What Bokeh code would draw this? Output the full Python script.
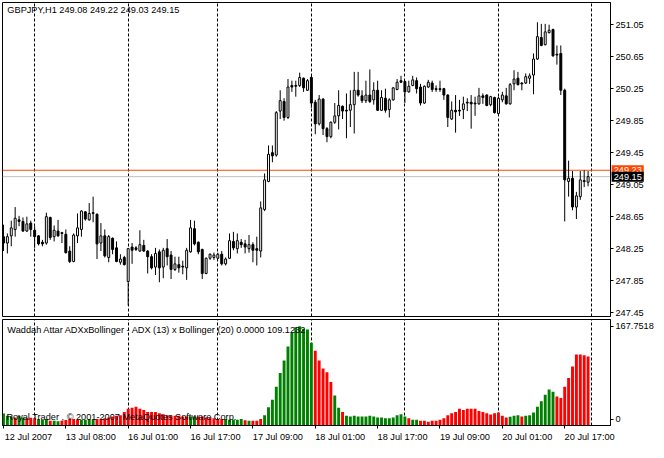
from bokeh.plotting import figure
from bokeh.models import Range1d, FixedTicker, Span, Label, ColumnDataSource, NumeralTickFormatter
from bokeh.layouts import column
from bokeh.embed import file_html
from bokeh.resources import INLINE

FONT = "Liberation Sans"
FS = "9.2px"

# ---------------- data (GBPJPY, H1) ----------------
opens = [248.40, 248.32, 248.41, 248.49, 248.61, 248.59, 248.47, 248.57, 248.48, 248.41,
         248.33, 248.32, 248.64, 248.40, 248.47, 248.45, 248.43, 248.22, 248.09, 248.41,
         248.49, 248.71, 248.61, 248.70, 248.68, 248.32, 248.41, 248.14, 248.38, 248.26,
         248.08, 248.14, 247.84, 248.27, 248.26, 248.22, 248.29, 248.22, 248.15, 248.02,
         248.21, 248.02, 248.25, 248.17, 247.99, 248.05, 248.03, 248.01, 248.21, 248.50,
         248.33, 248.24, 247.94, 248.13, 248.14, 248.13, 248.18, 248.06, 248.13, 248.34,
         248.25, 248.33, 248.31, 248.25, 248.30, 248.25, 248.22, 248.74, 249.09, 249.45,
         249.42, 249.97, 250.09, 249.89, 250.29, 250.29, 250.29, 250.38, 250.23, 250.39,
         250.08, 249.81, 250.12, 249.75, 249.65, 249.83, 249.91, 250.03, 249.98, 249.98,
         250.05, 250.23, 250.16, 250.10, 250.17, 250.11, 250.23, 249.98, 250.13, 249.99,
         250.11, 250.24, 250.35, 250.34, 250.21, 250.29, 250.35, 250.27, 250.07, 250.27,
         250.32, 250.25, 250.25, 250.25, 250.17, 249.87, 249.98, 249.98, 249.99, 250.08,
         250.08, 250.07, 250.06, 250.16, 250.17, 250.05, 250.14, 249.94, 250.11, 250.16,
         250.06, 250.31, 250.38, 250.32, 250.32, 250.38, 250.42, 250.62, 250.89, 250.80,
         250.95, 250.99, 250.68, 250.69, 250.23, 249.09, 249.13, 248.77, 248.90, 249.10,
         249.08]
highs = [248.55, 248.44, 248.60, 248.77, 248.66, 248.64, 248.65, 248.60, 248.53, 248.42,
         248.36, 248.70, 248.65, 248.54, 248.61, 248.46, 248.49, 248.28, 248.44, 248.69,
         248.73, 248.72, 248.82, 248.90, 248.69, 248.57, 248.49, 248.42, 248.39, 248.34,
         248.18, 248.16, 248.26, 248.32, 248.28, 248.48, 248.36, 248.23, 248.18, 248.26,
         248.24, 248.26, 248.37, 248.22, 248.15, 248.15, 248.10, 248.26, 248.61, 248.60,
         248.34, 248.25, 248.14, 248.19, 248.20, 248.20, 248.22, 248.14, 248.44, 248.46,
         248.44, 248.37, 248.36, 248.42, 248.33, 248.40, 248.84, 249.19, 249.54, 249.54,
         249.97, 250.23, 250.13, 250.37, 250.35, 250.35, 250.45, 250.39, 250.37, 250.41,
         250.11, 250.17, 250.13, 249.77, 249.84, 250.07, 250.23, 250.04, 250.19, 250.23,
         250.46, 250.46, 250.23, 250.35, 250.49, 250.33, 250.35, 250.23, 250.25, 250.13,
         250.27, 250.37, 250.41, 250.35, 250.35, 250.41, 250.39, 250.31, 250.29, 250.36,
         250.35, 250.29, 250.35, 250.26, 250.18, 250.09, 250.17, 250.11, 250.15, 250.13,
         250.17, 250.15, 250.26, 250.19, 250.18, 250.16, 250.15, 250.15, 250.21, 250.26,
         250.32, 250.48, 250.46, 250.33, 250.44, 250.44, 250.69, 251.08, 251.06, 251.06,
         251.05, 251.00, 250.79, 250.79, 250.25, 249.35, 249.22, 248.96, 249.22, 249.23,
         249.22]
lows = [248.22, 248.19, 248.28, 248.40, 248.53, 248.46, 248.46, 248.40, 248.26, 248.29,
        248.28, 248.30, 248.36, 248.34, 248.40, 248.32, 248.19, 248.07, 248.08, 248.32,
        248.40, 248.60, 248.60, 248.58, 248.12, 248.22, 248.14, 248.08, 248.18, 248.08,
        248.05, 248.04, 247.54, 248.06, 248.22, 248.21, 248.21, 247.94, 247.99, 247.92,
        247.83, 247.88, 248.04, 247.87, 247.97, 247.95, 247.93, 247.86, 248.20, 248.29,
        248.18, 247.87, 247.93, 248.11, 248.11, 248.12, 248.04, 248.04, 248.12, 248.23,
        248.19, 248.26, 248.19, 248.20, 248.08, 248.04, 248.14, 248.72, 249.08, 249.33,
        249.40, 249.87, 249.85, 249.87, 250.21, 250.15, 250.27, 250.21, 250.22, 250.01,
        249.68, 249.79, 249.67, 249.58, 249.63, 249.81, 249.74, 249.87, 249.63, 249.77,
        249.69, 250.15, 250.07, 250.07, 250.07, 250.05, 249.97, 249.97, 249.95, 249.89,
        250.10, 250.23, 250.32, 250.07, 250.20, 250.28, 250.19, 250.04, 250.06, 250.26,
        250.21, 250.21, 250.21, 250.11, 249.77, 249.86, 249.70, 249.91, 249.87, 249.97,
        249.75, 249.91, 250.05, 250.06, 250.03, 250.03, 249.94, 249.91, 250.08, 250.05,
        250.05, 250.23, 250.29, 250.23, 250.31, 250.31, 250.18, 250.61, 250.78, 250.79,
        250.94, 250.65, 250.55, 250.17, 248.59, 248.90, 248.73, 248.62, 248.86, 249.02,
        249.03]
closes = [248.32, 248.40, 248.51, 248.63, 248.59, 248.47, 248.56, 248.49, 248.40, 248.31,
          248.31, 248.65, 248.39, 248.48, 248.41, 248.44, 248.20, 248.09, 248.42, 248.51,
          248.72, 248.62, 248.69, 248.69, 248.31, 248.41, 248.16, 248.40, 248.24, 248.09,
          248.12, 248.05, 248.25, 248.23, 248.24, 248.30, 248.22, 248.15, 248.01, 248.19,
          248.01, 248.23, 248.15, 247.99, 248.06, 248.01, 248.02, 248.23, 248.51, 248.31,
          248.21, 247.94, 248.13, 248.18, 248.17, 248.18, 248.06, 248.12, 248.35, 248.26,
          248.35, 248.30, 248.27, 248.30, 248.23, 248.23, 248.76, 249.11, 249.43, 249.41,
          249.95, 250.10, 249.89, 250.27, 250.27, 250.28, 250.39, 250.26, 250.35, 250.07,
          249.81, 250.12, 249.75, 249.65, 249.83, 249.91, 250.04, 249.97, 249.97, 250.05,
          250.23, 250.17, 250.10, 250.17, 250.09, 250.23, 249.98, 250.14, 249.98, 250.11,
          250.26, 250.33, 250.33, 250.21, 250.28, 250.36, 250.25, 250.07, 250.28, 250.33,
          250.24, 250.24, 250.24, 250.17, 249.89, 249.98, 249.96, 249.97, 250.06, 250.07,
          250.06, 250.06, 250.16, 250.14, 250.04, 250.15, 249.95, 250.13, 250.17, 250.06,
          250.30, 250.37, 250.30, 250.31, 250.40, 250.41, 250.62, 250.90, 250.79, 250.96,
          250.98, 250.66, 250.67, 250.23, 249.11, 249.13, 248.77, 248.91, 249.11, 249.09,
          249.15]

# Waddah Attar ADX x Bollinger histogram (value, colour G = up / R = down)
hist_values = [18.9, 15.3, 14.2, 12.7, 15.3, 12.7, 11.3, 12.3, 11.3, 10.2,
               8.7, 10.2, 7.6, 7.6, 6.6, 7.6, 8.7, 10.2, 10.2, 9.2,
               9.2, 9.2, 10.2, 9.2, 10.2, 10.2, 11.3, 12.7, 14.2, 15.3,
               16.3, 21.4, 26.5, 28.0, 29.6, 26.5, 24.5, 21.4, 21.4, 21.4,
               19.4, 17.9, 16.3, 15.3, 15.3, 15.3, 14.2, 14.2, 14.2, 14.2,
               14.2, 14.2, 12.7, 12.7, 11.3, 10.2, 10.2, 10.2, 9.2, 9.2,
               9.2, 10.2, 8.2, 7.6, 7.6, 7.6, 10.2, 16.3, 29.0, 40.8,
               61.2, 83.1, 103.0, 125.0, 146.9, 155.5, 157.1, 153.0, 152.0, 131.0,
               118.3, 103.0, 90.3, 84.1, 68.9, 47.5, 28.0, 21.4, 15.3, 14.2,
               15.3, 14.2, 14.2, 14.2, 15.3, 14.2, 12.7, 12.7, 11.3, 11.3,
               12.7, 16.3, 17.9, 14.2, 11.3, 9.2, 9.2, 7.6, 7.6, 6.1,
               7.6, 7.6, 9.2, 11.3, 16.3, 19.4, 21.4, 26.5, 24.5, 26.5,
               26.5, 26.5, 23.0, 21.4, 19.4, 17.3, 19.4, 20.4, 15.3, 12.7,
               13.8, 15.3, 16.3, 14.2, 15.3, 16.3, 20.4, 29.6, 38.2, 48.5,
               57.1, 53.5, 45.9, 43.4, 61.2, 75.0, 93.3, 112.2, 112.2, 111.2,
               109.1232]
hist_dir = list("GGGRGGRRRG" "GGRGGRRRRR" "GGGGRRRRRR" "RRRRRRRRRR" "RRRRRRRRGG"
                "RRRRRRRGGG" "GGRGRRRGGG" "GGGGGGGGGG" "RRRRRGGRGG" "GGGGGGGGGG"
                "GGGGRGGRRR" "RRRRRRRRRR" "RRRRRRRRRR" "GGGRGGGGGG" "GGRRRRRRRR" "R")

price_ticks = [247.45, 247.85, 248.25, 248.65, 249.05, 249.45, 249.85, 250.25, 250.65, 251.05]
date_idx = [0, 16, 32, 48, 64, 80, 96, 112, 128, 144]
date_labels = ["12 Jul 2007", "13 Jul 08:00", "16 Jul 01:00", "16 Jul 17:00", "17 Jul 09:00",
               "18 Jul 01:00", "18 Jul 17:00", "19 Jul 09:00", "20 Jul 01:00", "20 Jul 17:00"]
day_starts = [8, 32, 55, 79, 103, 127, 151]
ask_price = 249.23
bid_price = 249.15
header = "GBPJPY,H1  249.08 249.22 249.03 249.15"
ind_title = "Waddah Attar ADXxBollinger - ADX (13) x Bollinger (20) 0.0000 109.1232"
ind_max = 167.7518

# ---------------- figures ----------------
n = len(opens)
idx = list(range(n))
xr = Range1d(-0.25, 155.75)

p1 = figure(frame_width=608, frame_height=314, x_range=xr, y_range=Range1d(247.402, 251.327),
            x_axis_location=None, y_axis_location="right", output_backend="svg",
            toolbar_location=None, min_border_left=2, min_border_right=38,
            min_border_top=2, min_border_bottom=3)
p2 = figure(frame_width=608, frame_height=106, x_range=xr, y_range=Range1d(0, ind_max),
            y_axis_location="right", output_backend="svg", toolbar_location=None,
            min_border_left=2, min_border_right=38, min_border_top=0, min_border_bottom=17)

for p in (p1, p2):
    p.background_fill_color = "white"
    p.border_fill_color = "white"
    p.outline_line_color = "black"
    p.outline_line_width = 1
    p.outline_line_alpha = 1
    p.ygrid.visible = False
    p.xgrid.ticker = FixedTicker(ticks=day_starts)
    p.xgrid.grid_line_color = "black"
    p.xgrid.grid_line_dash = "3 2"
    p.xgrid.grid_line_width = 1
    for ax in p.yaxis:
        ax.axis_line_color = "black"
        ax.major_tick_line_color = "black"
        ax.major_tick_out = 3
        ax.major_tick_in = 0
        ax.minor_tick_line_color = None
        ax.major_label_standoff = 2
        ax.major_label_text_font = FONT
        ax.major_label_text_font_size = FS
        ax.major_label_text_color = "black"

p1.yaxis.ticker = FixedTicker(ticks=price_ticks)
p1.yaxis.formatter = NumeralTickFormatter(format="0.00")

p2.yaxis.ticker = FixedTicker(ticks=[9.8, 157.1])
p2.yaxis.major_label_overrides = {9.8: "0", 157.1: "167.7518"}

# date labels start at their bar (MetaTrader style); the small tick marks sit at the bars
label_half = 6.4
date_pos = [i + label_half for i in date_idx]
ax = p2.xaxis[0]
ax.ticker = FixedTicker(ticks=date_pos, minor_ticks=date_idx)
ax.major_label_overrides = {pos: t for pos, t in zip(date_pos, date_labels)}
ax.axis_line_color = "black"
ax.major_tick_line_color = None
ax.major_tick_out = 0
ax.major_tick_in = 0
ax.minor_tick_line_color = "black"
ax.minor_tick_out = 3
ax.minor_tick_in = 0
ax.major_label_standoff = 3
ax.major_label_text_font = FONT
ax.major_label_text_font_size = FS
ax.major_label_text_color = "black"

# ask / bid lines
p1.add_layout(Span(location=ask_price, dimension="width", line_color="#FF4500",
                   line_width=1, level="underlay"))
p1.add_layout(Span(location=bid_price, dimension="width", line_color="#C0C0C0",
                   line_width=1, level="underlay"))

# candles
tops = [max(o, c) for o, c in zip(opens, closes)]
bots = [min(o, c) for o, c in zip(opens, closes)]
fills = ["white" if c > o else "black" for o, c in zip(opens, closes)]
src = ColumnDataSource(dict(x=idx, h=highs, l=lows, top=tops, bottom=bots, fill=fills))
p1.segment(x0="x", y0="h", x1="x", y1="l", line_color="black", line_width=1, source=src)
p1.vbar(x="x", width=0.5, top="top", bottom="bottom", fill_color="fill",
        line_color="black", line_width=1, source=src)

# histogram
hcol = ["#008000" if d == "G" else "#FF0000" for d in hist_dir]
hsrc = ColumnDataSource(dict(x=idx, v=hist_values, c=hcol))
p2.vbar(x="x", width=0.75, top="v", bottom=0, fill_color="c", line_color=None, source=hsrc)

# texts
p1.add_layout(Label(x=1.0, y=251.23, text=header, text_font=FONT, text_font_size=FS,
                    text_color="black", text_baseline="middle", text_align="left"))
# price boxes on the price scale (side panel so they are not clipped to the frame)
p1.add_layout(Label(x=156.05, y=ask_price, text=f"{ask_price:.2f}", text_font=FONT,
                    text_font_size=FS, text_color="white", text_baseline="middle",
                    text_align="left", background_fill_color="#FF4500",
                    background_fill_alpha=1.0, padding=2), "right")
p1.add_layout(Label(x=156.05, y=bid_price, text=f"{bid_price:.2f}", text_font=FONT,
                    text_font_size=FS, text_color="white", text_baseline="middle",
                    text_align="left", background_fill_color="black",
                    background_fill_alpha=1.0, padding=2), "right")
p2.add_layout(Label(x=1.0, y=151.4, text=ind_title, text_font=FONT, text_font_size=FS,
                    text_color="black", text_baseline="middle", text_align="left"))
p2.add_layout(Label(x=0.75, y=13.5, text="Royal Trader , \u00a9 2001-2007 MetaQuotes Software Corp.",
                    text_font=FONT, text_font_size=FS, text_color="black",
                    text_baseline="middle", text_align="left"))

layout = column(p1, p2, spacing=0)
open("out.html", "w").write(file_html(layout, INLINE))
